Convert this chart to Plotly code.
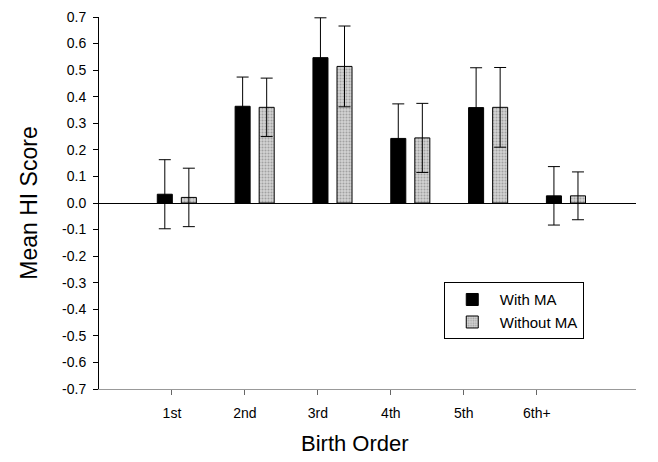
import plotly.graph_objects as go

categories = ["1st", "2nd", "3rd", "4th", "5th", "6th+"]
with_ma = [0.033, 0.364, 0.547, 0.243, 0.359, 0.027]
with_ma_err = [0.13, 0.11, 0.15, 0.13, 0.15, 0.11]
without_ma = [0.021, 0.360, 0.514, 0.245, 0.360, 0.027]
without_ma_err = [0.11, 0.11, 0.152, 0.13, 0.15, 0.09]
y_ticks = [round(-0.7 + 0.1 * i, 1) for i in range(15)]
y_tick_text = ["%.1f" % v for v in y_ticks]

pos = list(range(1, len(categories) + 1))
FONT = "Liberation Sans, Arial, sans-serif"

fig = go.Figure()
fig.add_trace(go.Bar(
    x=pos, y=with_ma, name="With MA",
    marker=dict(color="black", line=dict(color="black", width=1)),
    error_y=dict(type="data", array=with_ma_err, visible=True,
                 color="black", thickness=1, width=6),
))
fig.add_trace(go.Bar(
    x=pos, y=without_ma, name="Without MA",
    marker=dict(color="#cccccc", line=dict(color="black", width=1),
                pattern=dict(shape=".", fgcolor="#707070", bgcolor="#d2d2d2",
                             size=3, solidity=0.35)),
    error_y=dict(type="data", array=without_ma_err, visible=True,
                 color="black", thickness=1, width=6),
))
# carrier trace for the category label axis (draws nothing)
fig.add_trace(go.Scatter(x=pos, y=[None] * len(pos), xaxis="x2", yaxis="y",
                         mode="markers", showlegend=False, hoverinfo="skip"))

fig.update_layout(
    width=650, height=454,
    margin=dict(l=91, r=22, t=9, b=73),
    paper_bgcolor="white", plot_bgcolor="white",
    barmode="group", bargap=0.382, bargroupgap=0.375,
    font=dict(family=FONT, size=13, color="black"),
    showlegend=True,
    legend=dict(x=0.642, y=0.287, xanchor="left", yanchor="top",
                bordercolor="black", borderwidth=1, bgcolor="white",
                font=dict(size=15), traceorder="normal",
                itemwidth=45, tracegroupgap=0),
    xaxis=dict(range=[0, 6.9], showticklabels=False, ticks="",
               showline=False, showgrid=False, zeroline=False,
               automargin=False),
    xaxis2=dict(overlaying="x", anchor="y", side="bottom",
                range=[0, 7.36], tickmode="array", tickvals=pos,
                ticktext=categories, ticks="outside", ticklen=5,
                tickcolor="#666666", showline=True, linecolor="#999999",
                linewidth=1, showgrid=False, zeroline=False,
                tickfont=dict(size=14), ticklabelstandoff=6,
                automargin=False),
    yaxis=dict(range=[-0.7, 0.7], tickmode="array", tickvals=y_ticks,
               ticktext=y_tick_text, ticks="outside", ticklen=5,
               tickcolor="black", showline=True, linecolor="black",
               linewidth=1, showgrid=False, zeroline=True,
               zerolinecolor="black", zerolinewidth=1,
               tickfont=dict(size=14), ticklabelstandoff=4,
               ticklabeloverflow="allow", automargin=False,
               title=dict(text="Mean HI Score", font=dict(size=23), standoff=18)),
    annotations=[dict(text="Birth Order", xref="paper", yref="paper",
                      x=0.477, y=-0.147, xanchor="center", yanchor="middle",
                      showarrow=False, font=dict(size=22))],
)

fig.write_html("out.html")
